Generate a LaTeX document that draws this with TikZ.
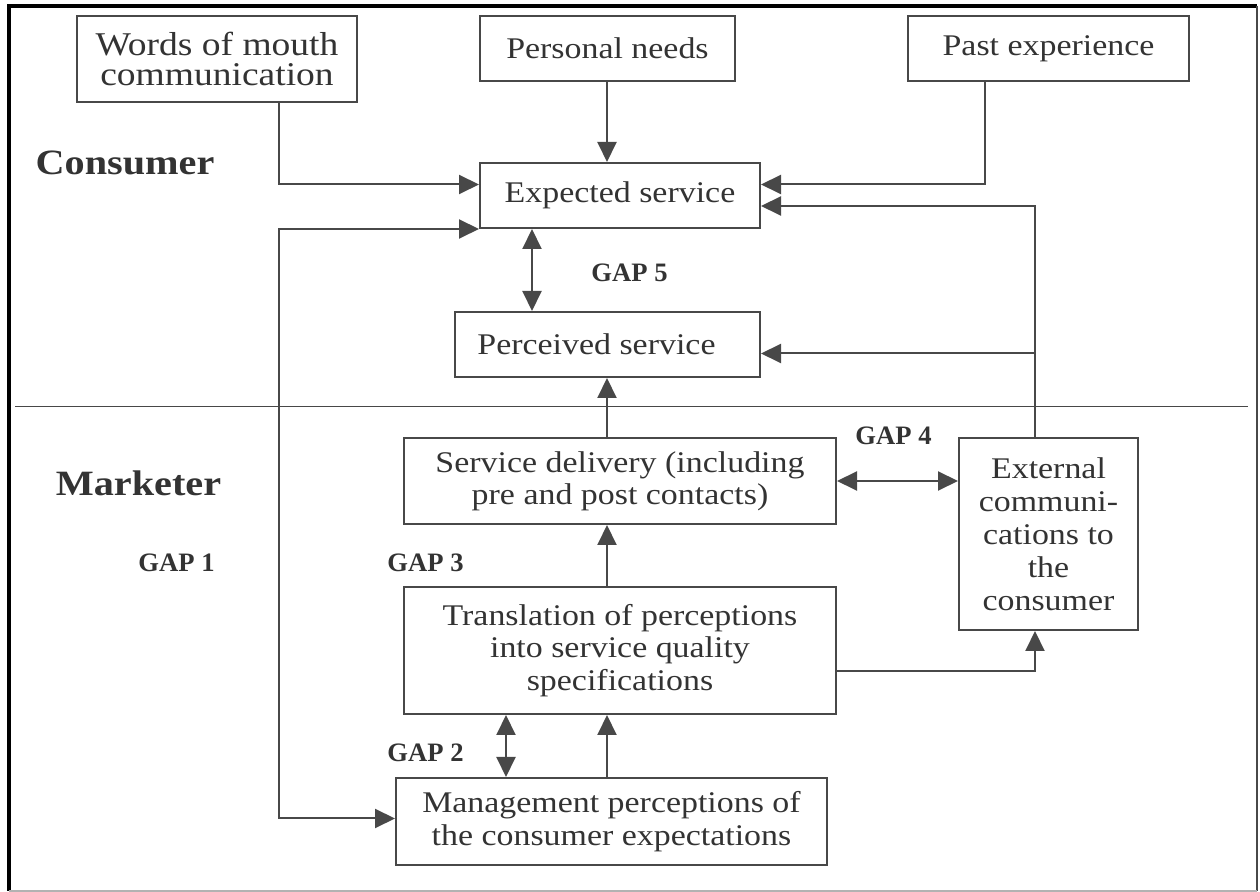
\documentclass[tikz,border=0pt]{standalone}
\usepackage{fontspec}
\setmainfont{Liberation Serif}[FakeStretch=1.13]
\newfontfamily\gapfont{Liberation Serif}
\usetikzlibrary{arrows.meta}
\definecolor{ink}{HTML}{333333}
\definecolor{rule}{HTML}{484848}

\begin{document}
\begin{tikzpicture}[x=0.5pt,y=-0.5pt,
  box/.style={draw=rule,line width=1pt,inner sep=0pt,align=center,text=ink,
              font=\fontsize{15}{16.2}\selectfont},
  link/.style={draw=rule,line width=1pt,-{Triangle[length=10pt,width=9.5pt]}},
  both/.style={draw=rule,line width=1pt,
               {Triangle[length=10pt,width=9.5pt]}-{Triangle[length=10pt,width=9.5pt]}},
  side/.style={text=ink,inner sep=0pt,font=\fontsize{17.8}{20}\selectfont\bfseries},
  gap/.style={text=ink,inner sep=0pt,font=\gapfont\fontsize{13.3}{16}\selectfont\bfseries}]

\useasboundingbox (0,0) rectangle (1260,892);
\fill[white] (0,0) rectangle (1260,892);

% outer frame
\draw[black,line width=2pt] (7,6.5) -- (1257,6.5);
\draw[black,line width=2.4pt] (9,5) -- (9,891);
\draw[rule,line width=0.8pt] (1257,6.5) -- (1257,891);
\draw[black!30,line width=0.8pt] (9,891) -- (1257,891);

% consumer / marketer divide
\draw[rule,line width=0.8pt] (15,406.5) -- (1248,406.5);

% columns used by the connectors
\coordinate (xa) at (279,500);
\coordinate (xb) at (532,500);
\coordinate (xc) at (607,500);
\coordinate (xd) at (506,500);
\coordinate (xe) at (985,500);
\coordinate (xf) at (1035,500);

% boxes
\node[box,minimum width=140pt,minimum height=43pt,font=\fontsize{16.6}{15}\selectfont]
  (wom) at (217,59) {Words of mouth\\communication};
\node[box,minimum width=127.5pt,minimum height=32.5pt] (needs) at (607.5,48.5) {Personal needs};
\node[box,minimum width=140.5pt,minimum height=32.5pt] (past) at (1048.5,48.5) {Past experience};
\node[box,minimum width=140pt,minimum height=32.5pt] (expected) at (620,195.5) {Expected service};
\node[box,minimum width=152.5pt,minimum height=32.5pt] (perceived) at (607.5,344.5) {Perceived service\hspace*{11pt}};
\node[box,minimum width=216pt,minimum height=43pt] (delivery) at (620,481)
  {Service delivery (including\\pre and post contacts)};
\node[box,minimum width=89.5pt,minimum height=96pt,font=\fontsize{15}{16.5}\selectfont] (ext) at (1048.5,534)
  {External\\communi-\\cations to\\the\\consumer};
\node[box,minimum width=216pt,minimum height=63.5pt] (transl) at (620,650.5)
  {Translation of perceptions\\into service quality\\specifications};
\node[box,minimum width=215.5pt,minimum height=43.5pt] (mgmt) at (611.5,821.5)
  {Management perceptions of\\the consumer expectations};

% labels
\node[side] (consumer) at (125,163) {Consumer};
\node[side] (marketer) at (138.5,483) {Marketer};
\node[gap] (g1) at (176.5,563) {GAP 1};
\node[gap] (g2) at (425.5,753) {GAP 2};
\node[gap] (g3) at (425.5,563) {GAP 3};
\node[gap] (g4) at (893.5,436) {GAP 4};
\node[gap] (g5) at (629.5,273) {GAP 5};

% connectors
\draw[link] (wom.south -| xa) |- ([yshift=5.5pt]expected.west);
\draw[link] (needs.south -| xc) -- (expected.north -| xc);
\draw[link] (past.south -| xe) |- ([yshift=5.5pt]expected.east);
\draw[link] (ext.north -| xf) |- ([yshift=-5.25pt]expected.east);
\draw[link] ([yshift=-4.5pt]perceived.east -| xf) -- ([yshift=-4.5pt]perceived.east);
\draw[both] (expected.south west) -| (xa) |- ([yshift=1.5pt]mgmt.west);
\draw[both] (expected.south -| xb) -- (perceived.north -| xb);
\draw[link] (delivery.north -| xc) -- (perceived.south -| xc);
\draw[link] (transl.north -| xc) -- (delivery.south -| xc);
\draw[link] (mgmt.north -| xc) -- (transl.south -| xc);
\draw[both] (mgmt.north -| xd) -- (transl.south -| xd);
\draw[both] (delivery.east) -- (ext.west |- delivery.east);
\draw[link] ([yshift=-10.25pt]transl.east) -| (ext.south -| xf);

\end{tikzpicture}
\end{document}
